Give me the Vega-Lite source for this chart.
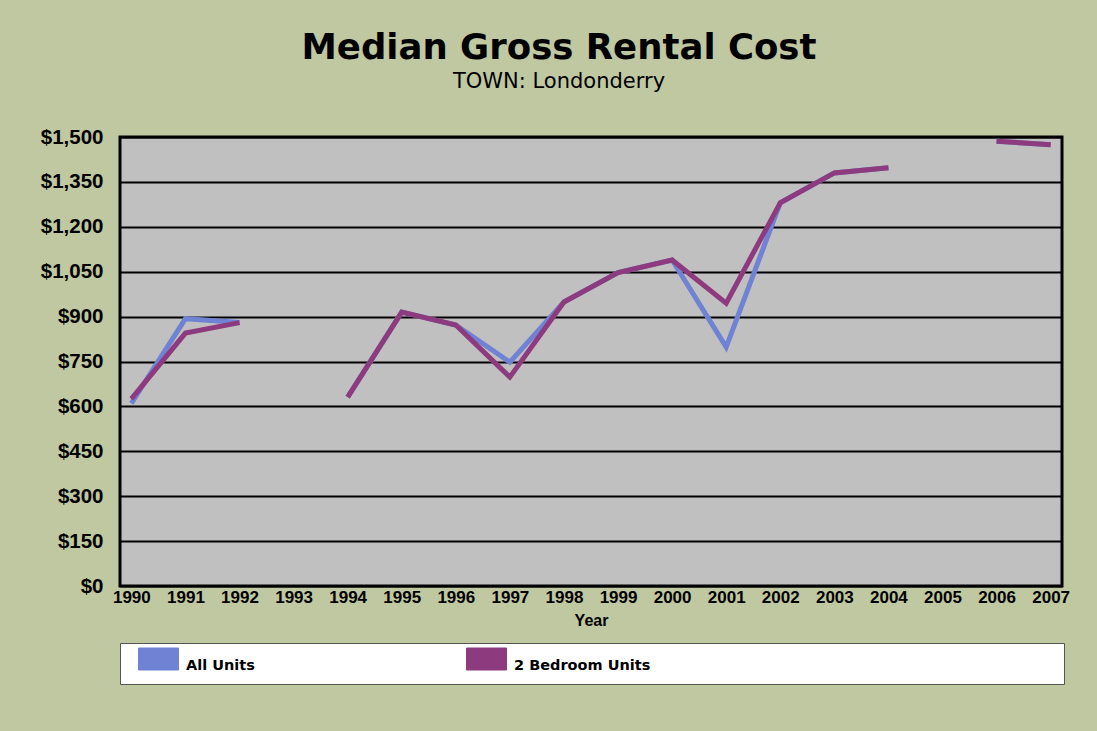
{
  "$schema": "https://vega.github.io/schema/vega-lite/v6.json",
  "width": 942,
  "height": 449,
  "autosize": {"type": "none"},
  "padding": {"left": 120, "top": 137, "right": 35, "bottom": 145},
  "background": "#BFC8A0",
  "title": {
    "text": "Median Gross Rental Cost",
    "subtitle": "TOWN: Londonderry",
    "font": "DejaVu Sans",
    "fontSize": 35.5,
    "fontWeight": "bold",
    "color": "black",
    "subtitleFont": "DejaVu Sans",
    "subtitleFontSize": 21,
    "subtitleColor": "black",
    "subtitlePadding": 5,
    "anchor": "middle",
    "dx": -32,
    "offset": 35
  },
  "data": {
    "values": [
      {"year": "1990", "series": "All Units", "rent": 610},
      {"year": "1991", "series": "All Units", "rent": 893},
      {"year": "1992", "series": "All Units", "rent": 880},
      {"year": "1993", "series": "All Units", "rent": null},
      {"year": "1994", "series": "All Units", "rent": 631},
      {"year": "1995", "series": "All Units", "rent": 915},
      {"year": "1996", "series": "All Units", "rent": 872},
      {"year": "1997", "series": "All Units", "rent": 748},
      {"year": "1998", "series": "All Units", "rent": 949},
      {"year": "1999", "series": "All Units", "rent": 1047},
      {"year": "2000", "series": "All Units", "rent": 1089},
      {"year": "2001", "series": "All Units", "rent": 798},
      {"year": "2002", "series": "All Units", "rent": 1280},
      {"year": "2003", "series": "All Units", "rent": 1380},
      {"year": "2004", "series": "All Units", "rent": 1397},
      {"year": "2005", "series": "All Units", "rent": null},
      {"year": "2006", "series": "All Units", "rent": 1486},
      {"year": "2007", "series": "All Units", "rent": 1474},
      {"year": "1990", "series": "2 Bedroom Units", "rent": 625},
      {"year": "1991", "series": "2 Bedroom Units", "rent": 845},
      {"year": "1992", "series": "2 Bedroom Units", "rent": 880},
      {"year": "1993", "series": "2 Bedroom Units", "rent": null},
      {"year": "1994", "series": "2 Bedroom Units", "rent": 631},
      {"year": "1995", "series": "2 Bedroom Units", "rent": 915},
      {"year": "1996", "series": "2 Bedroom Units", "rent": 872},
      {"year": "1997", "series": "2 Bedroom Units", "rent": 698},
      {"year": "1998", "series": "2 Bedroom Units", "rent": 949},
      {"year": "1999", "series": "2 Bedroom Units", "rent": 1047},
      {"year": "2000", "series": "2 Bedroom Units", "rent": 1089},
      {"year": "2001", "series": "2 Bedroom Units", "rent": 945},
      {"year": "2002", "series": "2 Bedroom Units", "rent": 1280},
      {"year": "2003", "series": "2 Bedroom Units", "rent": 1380},
      {"year": "2004", "series": "2 Bedroom Units", "rent": 1397},
      {"year": "2005", "series": "2 Bedroom Units", "rent": null},
      {"year": "2006", "series": "2 Bedroom Units", "rent": 1486},
      {"year": "2007", "series": "2 Bedroom Units", "rent": 1474}
    ]
  },
  "mark": {"type": "line", "strokeWidth": 5, "invalid": "break-paths-show-domains"},
  "encoding": {
    "x": {
      "field": "year",
      "type": "ordinal",
      "scale": {"type": "point", "padding": 0.21, "domain": ["1990","1991","1992","1993","1994","1995","1996","1997","1998","1999","2000","2001","2002","2003","2004","2005","2006","2007"]},
      "axis": {
        "labelAngle": 0,
        "labelFont": "Liberation Sans",
        "labelFontWeight": "bold",
        "labelFontSize": 17,
        "labelColor": "black",
        "labelPadding": 3,
        "ticks": false,
        "domain": false,
        "grid": false,
        "title": "Year",
        "titleFont": "Liberation Sans",
        "titleFontSize": 16,
        "titleFontWeight": "bold",
        "titleColor": "black",
        "titlePadding": 7
      }
    },
    "y": {
      "field": "rent",
      "type": "quantitative",
      "scale": {"domain": [0, 1500], "nice": false},
      "axis": {
        "values": [0,150,300,450,600,750,900,1050,1200,1350,1500],
        "format": "$,.0f",
        "title": null,
        "labelFont": "Liberation Sans",
        "labelFontWeight": "bold",
        "labelFontSize": 20.5,
        "labelColor": "black",
        "labelPadding": 17,
        "ticks": false,
        "domain": false,
        "grid": true,
        "gridColor": "black",
        "gridWidth": 2,
        "gridOpacity": 1
      }
    },
    "color": {
      "field": "series",
      "type": "nominal",
      "sort": ["All Units", "2 Bedroom Units"],
      "scale": {"domain": ["All Units", "2 Bedroom Units"], "range": ["#6F82D3", "#8E3A7E"]},
      "legend": {
        "orient": "none",
        "legendX": 0,
        "legendY": 506,
        "direction": "horizontal",
        "title": null,
        "fillColor": "white",
        "strokeColor": "#555555",
        "padding": 4,
        "symbolType": "M-1,-0.975H1V0.125H-1Z M0,0.525",
        "symbolSize": 1600,
        "symbolOffset": 14,
        "labelOffset": 7,
        "columnPadding": 197,
        "labelFont": "DejaVu Sans",
        "labelFontSize": 14.5,
        "labelFontWeight": "bold",
        "labelColor": "black",
        "labelLimit": 1000,
        "labelExpr": "datum.label == '2 Bedroom Units' ? pad(datum.label, 96, '\u00a0') + '\u200d' : datum.label",
        "encode": {
          "symbols": {
            "update": {
              "fill": {"scale": "color", "field": "value"},
              "fillOpacity": {"value": 1},
              "stroke": {"value": "#333333"},
              "strokeWidth": {"value": 1}
            }
          },
          "labels": {
            "update": {
              "dy": {"value": -2}
            }
          }
        }
      }
    }
  },
  "config": {
    "view": {"fill": "#C0C0C0", "stroke": "black", "strokeWidth": 3}
  }
}
